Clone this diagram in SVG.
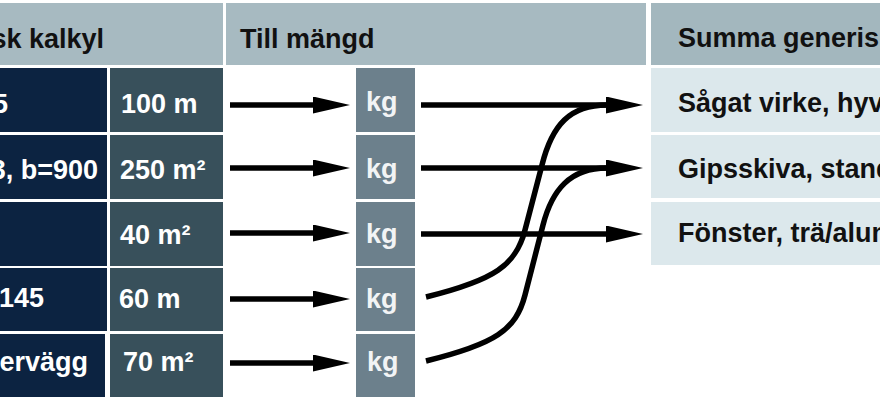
<svg xmlns="http://www.w3.org/2000/svg" width="880" height="415" viewBox="0 0 880 415">
<defs>
<style>
.hdr{fill:#a7bac1}
.hdr2{fill:#a3b7be}
.c1{fill:#0c2341}
.c2{fill:#38505b}
.kg{fill:#6c808c}
.res{fill:#dce8ec}
text{font-family:"Liberation Sans",Arial,sans-serif;font-weight:bold;font-size:27px}
.dark{fill:#111111}
.light{fill:#ffffff}
.kgt{fill:#f2f4f5}
.ln{stroke:#000;stroke-width:5.5;fill:none}
</style>
<marker id="ah" markerUnits="userSpaceOnUse" markerWidth="38" markerHeight="18" refX="0" refY="8.5" orient="auto">
<path d="M0,0 L37,8.5 L0,17 z" fill="#000"/>
</marker>
</defs>
<rect width="880" height="415" fill="#ffffff"/>

<g id="header-kalkyl"><rect class="hdr" x="0" y="3" width="223" height="62"/><text class="dark" x="104" y="48" text-anchor="end">sk kalkyl</text></g>
<g id="header-mangd"><rect class="hdr" x="226" y="3" width="420" height="62"/><text class="dark" x="240" y="48">Till mängd</text></g>
<g id="header-summa"><rect class="hdr2" x="651" y="3" width="229" height="62"/><text class="dark" x="678" y="47">Summa generis</text></g>

<g id="row1-name"><rect class="c1" x="0" y="68" width="107" height="64"/><text class="light" x="8" y="113" text-anchor="end">5</text></g>
<g id="row2-name"><rect class="c1" x="0" y="135" width="107" height="64"/><text class="light" x="98" y="179" text-anchor="end">3, b=900</text></g>
<g id="row3-name"><rect class="c1" x="0" y="202" width="107" height="64"/></g>
<g id="row4-name"><rect class="c1" x="0" y="268" width="107" height="63"/><text class="light" x="44" y="307" text-anchor="end">145</text></g>
<g id="row5-name"><rect class="c1" x="0" y="334" width="105" height="63"/><text class="light" x="88" y="371" text-anchor="end">ervägg</text></g>

<g id="row1-qty"><rect class="c2" x="110" y="68" width="113" height="64"/><text class="light" x="121" y="113">100 m</text></g>
<g id="row2-qty"><rect class="c2" x="110" y="135" width="113" height="64"/><text class="light" x="120" y="179">250 m²</text></g>
<g id="row3-qty"><rect class="c2" x="110" y="202" width="113" height="64"/><text class="light" x="120" y="244">40 m²</text></g>
<g id="row4-qty"><rect class="c2" x="110" y="268" width="113" height="63"/><text class="light" x="119" y="308">60 m</text></g>
<g id="row5-qty"><rect class="c2" x="110" y="334" width="113" height="63"/><text class="light" x="123" y="371">70 m²</text></g>

<g id="row1-kg"><rect class="kg" x="356" y="68" width="59" height="64"/><text class="kgt" x="366" y="111">kg</text></g>
<g id="row2-kg"><rect class="kg" x="356" y="135" width="59" height="64"/><text class="kgt" x="366" y="178">kg</text></g>
<g id="row3-kg"><rect class="kg" x="356" y="202" width="59" height="64"/><text class="kgt" x="366" y="243">kg</text></g>
<g id="row4-kg"><rect class="kg" x="356" y="268" width="59" height="63"/><text class="kgt" x="366" y="308">kg</text></g>
<g id="row5-kg"><rect class="kg" x="356" y="334" width="59" height="63"/><text class="kgt" x="367" y="371">kg</text></g>

<g id="res1"><rect class="res" x="651" y="68" width="229" height="64"/><text class="dark" x="678" y="112">Sågat virke, hyv</text></g>
<g id="res2"><rect class="res" x="651" y="135" width="229" height="63"/><text class="dark" x="678" y="178">Gipsskiva, stand</text></g>
<g id="res3"><rect class="res" x="651" y="202" width="229" height="63"/><text class="dark" x="678" y="242">Fönster, trä/alum</text></g>

<g id="connectors">
<line class="ln" x1="230" y1="105" x2="313" y2="105" marker-end="url(#ah)"/>
<line class="ln" x1="230" y1="168" x2="313" y2="168" marker-end="url(#ah)"/>
<line class="ln" x1="230" y1="233" x2="313" y2="233" marker-end="url(#ah)"/>
<line class="ln" x1="230" y1="299" x2="313" y2="299" marker-end="url(#ah)"/>
<line class="ln" x1="230" y1="363" x2="313" y2="363" marker-end="url(#ah)"/>
<line class="ln" x1="421" y1="105" x2="606" y2="105" marker-end="url(#ah)"/>
<line class="ln" x1="421" y1="168" x2="606" y2="168" marker-end="url(#ah)"/>
<line class="ln" x1="421" y1="234" x2="606" y2="234" marker-end="url(#ah)"/>
<path class="ln" d="M426,297 C495,280 516,265 525,230 L542,165 C552,125 570,105 607,105"/>
<path class="ln" d="M426,361 C495,344 516,330 525,295 L543,225 C552,190 570,168 607,168"/>
</g>
</svg>
